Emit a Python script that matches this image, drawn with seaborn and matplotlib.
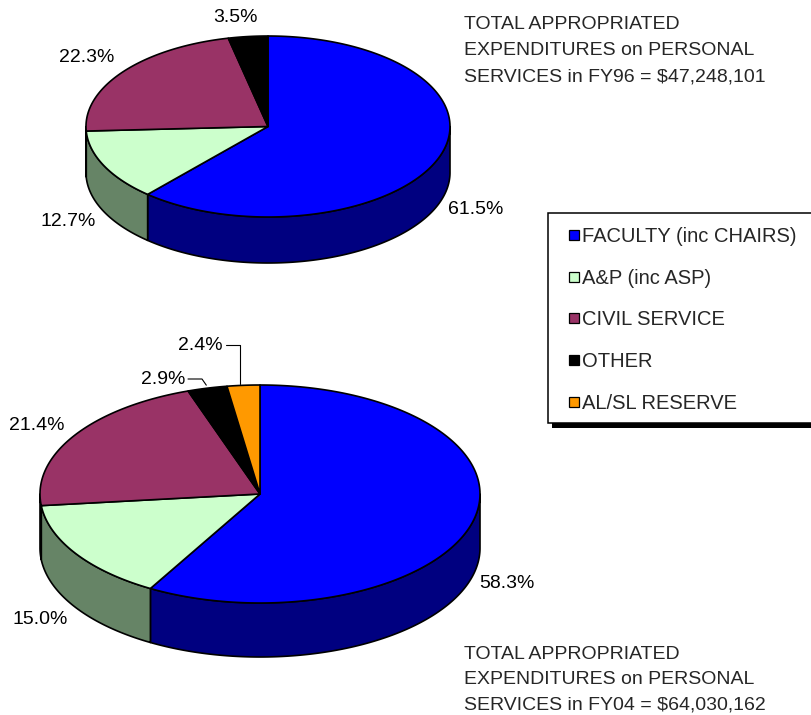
import matplotlib
matplotlib.use("Agg")
import matplotlib.pyplot as plt
from matplotlib.patches import Polygon, Rectangle
import numpy as np
import seaborn as sns

# ---- data ----
categories = ["FACULTY (inc CHAIRS)", "A&P (inc ASP)", "CIVIL SERVICE", "OTHER", "AL/SL RESERVE"]
fy96_shares = [61.5, 12.7, 22.3, 3.5]
fy04_shares = [58.3, 15.0, 21.4, 2.9, 2.4]
fy96_total = "$47,248,101"
fy04_total = "$64,030,162"

top_colors = ["#0000FF", "#CCFFCC", "#993366", "#000000", "#FF9900"]
side_colors = ["#000080", "#668466", "#4D1A33", "#000000", "#804D00"]

sns.set_theme(style="white")
plt.rcParams["font.family"] = ["Liberation Sans", "DejaVu Sans"]
FS = 14.0
FS_LEG = 14.5

palette_top = sns.color_palette(top_colors)
palette_side = sns.color_palette(side_colors)

fig = plt.figure(figsize=(8.11, 7.15), dpi=100)
ax = fig.add_axes([0, 0, 1, 1])
ax.set_xlim(0, 811)
ax.set_ylim(715, 0)
ax.axis("off")

EDGE_LW = 1.2


def arc(cx, cy, rx, ry, a0, a1, n=200):
    t = np.radians(np.linspace(a0, a1, n))
    return cx + rx * np.cos(t), cy - ry * np.sin(t)


def pie3d(values, cx, cy, rx, ry, depth):
    vals = np.asarray(values, dtype=float)
    frac = vals / vals.sum()
    cum = np.concatenate([[0], np.cumsum(frac)])
    angles = 90 - 360 * cum  # clockwise from 12 o'clock
    mids = []
    # side walls (front half only)
    for i in range(len(vals)):
        t0, t1 = angles[i], angles[i + 1]
        mids.append((t0 + t1) / 2)
        for k in range(-2, 2):
            lo = max(t1, -180 + 360 * k)
            hi = min(t0, 360 * k)
            if hi > lo:
                xs, ys = arc(cx, cy, rx, ry, lo, hi)
                pts = np.column_stack([np.concatenate([xs, xs[::-1]]),
                                       np.concatenate([ys, (ys + depth)[::-1]])])
                ax.add_patch(Polygon(pts, closed=True, facecolor=palette_side[i],
                                     edgecolor="black", lw=EDGE_LW, zorder=2,
                                     joinstyle="round"))
    # top faces
    for i in range(len(vals)):
        xs, ys = arc(cx, cy, rx, ry, angles[i], angles[i + 1])
        pts = np.column_stack([np.concatenate([[cx], xs]), np.concatenate([[cy], ys])])
        ax.add_patch(Polygon(pts, closed=True, facecolor=palette_top[i],
                             edgecolor="black", lw=EDGE_LW, zorder=3,
                             joinstyle="round"))
    return mids


def edge_point(cx, cy, rx, ry, ang):
    t = np.radians(ang)
    return cx + rx * np.cos(t), cy - ry * np.sin(t)


# ---- FY96 pie ----
TOP = dict(cx=268, cy=126.5, rx=182, ry=90.5, depth=46)
pie3d(fy96_shares, **TOP)
fy96_label_pos = [(476, 209), (68, 221), (87, 58), (235, 17)]
for v, (x, y) in zip(fy96_shares, fy96_label_pos):
    ax.text(x, y, f"{v:.1f}%", ha="center", va="center", fontsize=FS, color="black")

# ---- FY04 pie ----
BOT = dict(cx=260, cy=494, rx=220, ry=109, depth=54)
mids04 = pie3d(fy04_shares, **BOT)
fy04_label_pos = [(507, 583), (40, 620), (37, 425), (163, 380), (200, 346)]
for v, (x, y) in zip(fy04_shares, fy04_label_pos):
    ax.text(x, y, f"{v:.1f}%", ha="center", va="center", fontsize=FS, color="black")

# leader lines for the two thin slices
ex, ey = edge_point(BOT["cx"], BOT["cy"], BOT["rx"], BOT["ry"], mids04[3])
ax.plot([188, 202, ex - 1], [379, 379, ey - 3], color="black", lw=0.8, zorder=4)
ex, ey = edge_point(BOT["cx"], BOT["cy"], BOT["rx"], BOT["ry"], mids04[4])
ax.plot([226, ex - 3, ex - 3], [345, 345, ey - 1], color="black", lw=0.8, zorder=4)

# ---- legend ----
lx, ly, lw_, lh = 548, 213, 300, 210
ax.add_patch(Rectangle((lx + 4, ly + 5), lw_, lh, facecolor="black", edgecolor="none", zorder=5))
ax.add_patch(Rectangle((lx, ly), lw_, lh, facecolor="white", edgecolor="black", lw=1.1, zorder=6))
for i, name in enumerate(categories):
    yc = 235 + 41.7 * i
    ax.add_patch(Rectangle((569, yc - 5), 10, 10, facecolor=palette_top[i],
                           edgecolor="black", lw=0.9, zorder=7))
    ax.text(582, yc + 7, name, ha="left", va="baseline", fontsize=FS_LEG, zorder=7)

# ---- totals ----
top_lines = ["TOTAL APPROPRIATED", "EXPENDITURES on PERSONAL",
             f"SERVICES in FY96 = {fy96_total}"]
for j, line in enumerate(top_lines):
    ax.text(464, 29 + 26 * j, line, ha="left", va="baseline", fontsize=FS)
bot_lines = ["TOTAL APPROPRIATED", "EXPENDITURES on PERSONAL",
             f"SERVICES in FY04 = {fy04_total}"]
for j, line in enumerate(bot_lines):
    ax.text(464, 659 + 25.5 * j, line, ha="left", va="baseline", fontsize=FS)

fig.savefig("out.png", dpi=100, facecolor="white")
